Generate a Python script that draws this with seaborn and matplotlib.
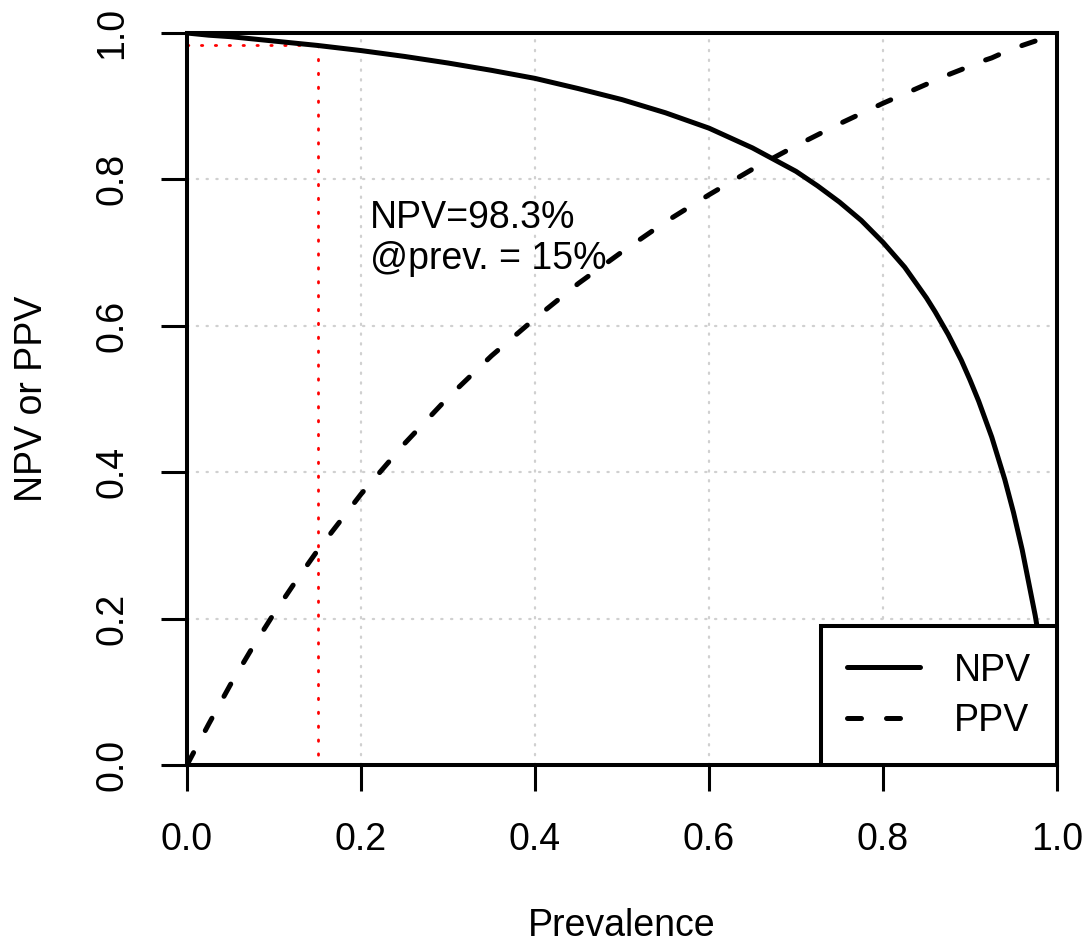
import matplotlib
matplotlib.use("Agg")
import matplotlib.pyplot as plt
import seaborn as sns
from matplotlib.lines import Line2D

# Data
prevalence = [0.0, 0.025, 0.05, 0.075, 0.1, 0.125, 0.15, 0.2, 0.25, 0.3, 0.35, 0.4, 0.45,
              0.5, 0.55, 0.6, 0.65, 0.7, 0.725, 0.75, 0.775, 0.8, 0.825, 0.85, 0.86,
              0.875, 0.89, 0.9, 0.91, 0.925, 0.94, 0.95, 0.96, 0.975, 0.985, 1.0]
npv = [1.0, 0.997, 0.995, 0.992, 0.989, 0.986, 0.983, 0.976, 0.968, 0.959, 0.949, 0.938,
       0.924, 0.909, 0.891, 0.870, 0.843, 0.811, 0.791, 0.769, 0.744, 0.714, 0.680,
       0.638, 0.619, 0.588, 0.553, 0.526, 0.497, 0.448, 0.390, 0.345, 0.294, 0.204,
       0.132, 0.0]
ppv = [0.0, 0.056, 0.110, 0.160, 0.207, 0.251, 0.293, 0.370, 0.439, 0.502, 0.559, 0.610,
       0.658, 0.701, 0.742, 0.779, 0.814, 0.846, 0.861, 0.876, 0.890, 0.904, 0.917,
       0.930, 0.935, 0.943, 0.950, 0.955, 0.960, 0.966, 0.974, 0.978, 0.983, 0.989,
       0.994, 1.0]
marked_prev = 0.15
marked_npv = 0.983
ticks = [0.0, 0.2, 0.4, 0.6, 0.8, 1.0]
tick_labels = ["0.0", "0.2", "0.4", "0.6", "0.8", "1.0"]

sns.set_style("white")
plt.rcParams["font.family"] = ["Liberation Sans", "DejaVu Sans"]
plt.rcParams["text.color"] = "black"
plt.rcParams["axes.labelcolor"] = "black"
plt.rcParams["xtick.color"] = "black"
plt.rcParams["ytick.color"] = "black"

FS = 27

fig = plt.figure(figsize=(10.86, 9.46), dpi=100)
ax = fig.add_axes([187 / 1086, (946 - 765) / 946, (1057 - 187) / 1086, (765 - 33) / 946])

lw = 3.6
dash = (0, (2.8, 5))
sns.lineplot(x=prevalence, y=npv, ax=ax, color="black", linewidth=lw,
             solid_capstyle="round", solid_joinstyle="round", zorder=3, legend=False)
sns.lineplot(x=prevalence, y=ppv, ax=ax, color="black", linewidth=lw,
             linestyle=dash, dash_capstyle="round", zorder=3, legend=False)

# grid
for t in ticks[1:-1]:
    ax.axvline(t, color="#d0d0d0", lw=1.6, linestyle=(0, (0.6, 3.8)),
               dash_capstyle="round", zorder=1)
    ax.axhline(t, color="#d0d0d0", lw=1.6, linestyle=(0, (0.6, 3.8)),
               dash_capstyle="round", zorder=1)

# red dotted marker lines
ax.plot([0, marked_prev], [marked_npv, marked_npv], color="red", lw=2.0,
        linestyle=(0, (0.5, 4.5)), dash_capstyle="round", zorder=2)
ax.plot([marked_prev, marked_prev], [marked_npv, 0], color="red", lw=2.0,
        linestyle=(0, (0.5, 4.5)), dash_capstyle="round", zorder=2)

ax.text(0.21, 0.772, "NPV=98.3%\n@prev. = 15%", fontsize=FS, va="top", ha="left",
        linespacing=1.2, zorder=4)

ax.set_xlim(0, 1)
ax.set_ylim(0, 1)
ax.set_xticks(ticks)
ax.set_xticklabels(tick_labels)
ax.set_yticks(ticks)
ax.set_yticklabels(tick_labels, rotation=90, va="center")
ax.tick_params(axis="both", direction="out", length=19, width=2.2, labelsize=FS,
               color="black", bottom=True, left=True)
ax.tick_params(axis="x", pad=22)
ax.tick_params(axis="y", pad=22)
for s in ax.spines.values():
    s.set_visible(True)
    s.set_color("black")
    s.set_linewidth(2.9)

ax.set_xlabel("Prevalence", fontsize=FS, labelpad=36)
ax.set_ylabel("NPV or PPV", fontsize=FS, labelpad=32)

handles = [Line2D([0], [0], color="black", lw=lw, solid_capstyle="round"),
           Line2D([0], [0], color="black", lw=lw, linestyle=dash,
                  dash_capstyle="round")]
leg = ax.legend(handles, ["NPV", "PPV"], loc="lower right", borderaxespad=0,
                fontsize=FS, fancybox=False, framealpha=1, edgecolor="black",
                handlelength=1.95, handletextpad=0.9, borderpad=0.7,
                labelspacing=0.38)
leg.get_frame().set_linewidth(2.9)
leg.set_zorder(5)

fig.savefig("out.png", dpi=100, facecolor="white")
